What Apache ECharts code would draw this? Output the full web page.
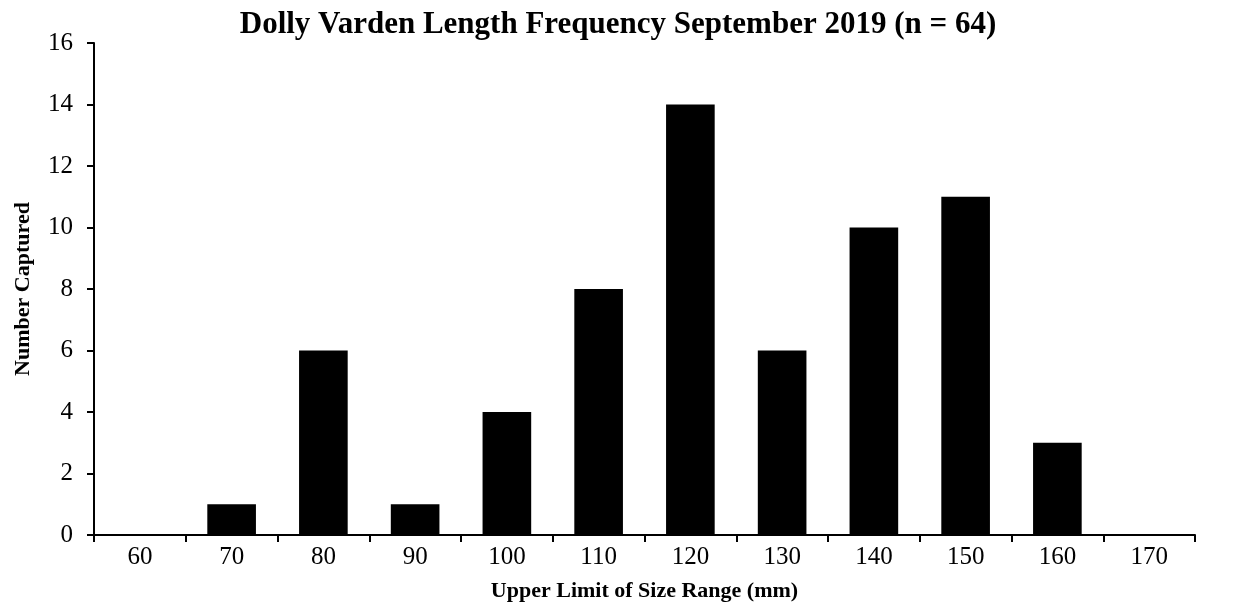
<!DOCTYPE html>
<html>
<head>
<meta charset="utf-8">
<script src="https://cdn.jsdelivr.net/npm/echarts@6/dist/echarts.min.js"></script>
<style>
  html, body { margin: 0; padding: 0; background: #fff; }
  #lengthFreq { width: 1236px; height: 609px; }
</style>
</head>
<body>
<div id="lengthFreq"></div>
<script>
  // size classes (upper limit, mm) and fish counts
  const sizeClasses = ['60', '70', '80', '90', '100', '110', '120', '130', '140', '150', '160', '170']
  const numberCaptured = [0, 1, 6, 1, 4, 8, 14, 6, 10, 11, 3, 0]
  const yTicks = { min: 0, max: 16, interval: 2 }

  const serif = '"Liberation Serif", "Times New Roman", serif'

  const lengthFreq = echarts.init(document.getElementById('lengthFreq'))
  const option = {
    backgroundColor: '#fff',
    animation: false,
    title: {
      text: 'Dolly Varden Length Frequency September 2019 (n = 64)',
      left: 'center',
      top: 4,
      textStyle: {
        fontFamily: serif,
        fontWeight: 'bold',
        fontSize: 31,
        color: '#000'
      }
    },
    grid: {
      left: 94,
      right: 41,
      top: 43,
      bottom: 74
    },
    xAxis: {
      type: 'category',
      data: sizeClasses,
      name: 'Upper Limit of Size Range (mm)',
      nameLocation: 'middle',
      nameGap: 45,
      nameTextStyle: {
        fontFamily: serif,
        fontWeight: 'bold',
        fontSize: 22,
        color: '#000'
      },
      axisLine: { lineStyle: { color: '#000', width: 2 } },
      axisTick: { show: true, length: 7, lineStyle: { color: '#000', width: 2 } },
      axisLabel: {
        fontFamily: serif,
        fontSize: 25,
        color: '#000',
        margin: 10
      }
    },
    yAxis: {
      type: 'value',
      min: yTicks.min,
      max: yTicks.max,
      interval: yTicks.interval,
      name: 'Number Captured',
      nameLocation: 'middle',
      nameGap: 60,
      nameTextStyle: {
        fontFamily: serif,
        fontWeight: 'bold',
        fontSize: 22,
        color: '#000'
      },
      axisLine: { show: true, lineStyle: { color: '#000', width: 2 } },
      axisTick: { show: true, length: 7, lineStyle: { color: '#000', width: 2 } },
      splitLine: { show: false },
      axisLabel: {
        fontFamily: serif,
        fontSize: 25,
        color: '#000',
        margin: 21
      }
    },
    series: [
      {
        name: 'Number Captured',
        type: 'bar',
        data: numberCaptured,
        barWidth: '53%',
        itemStyle: { color: '#000' }
      }
    ]
  }
  lengthFreq.setOption(option)
</script>
</body>
</html>
